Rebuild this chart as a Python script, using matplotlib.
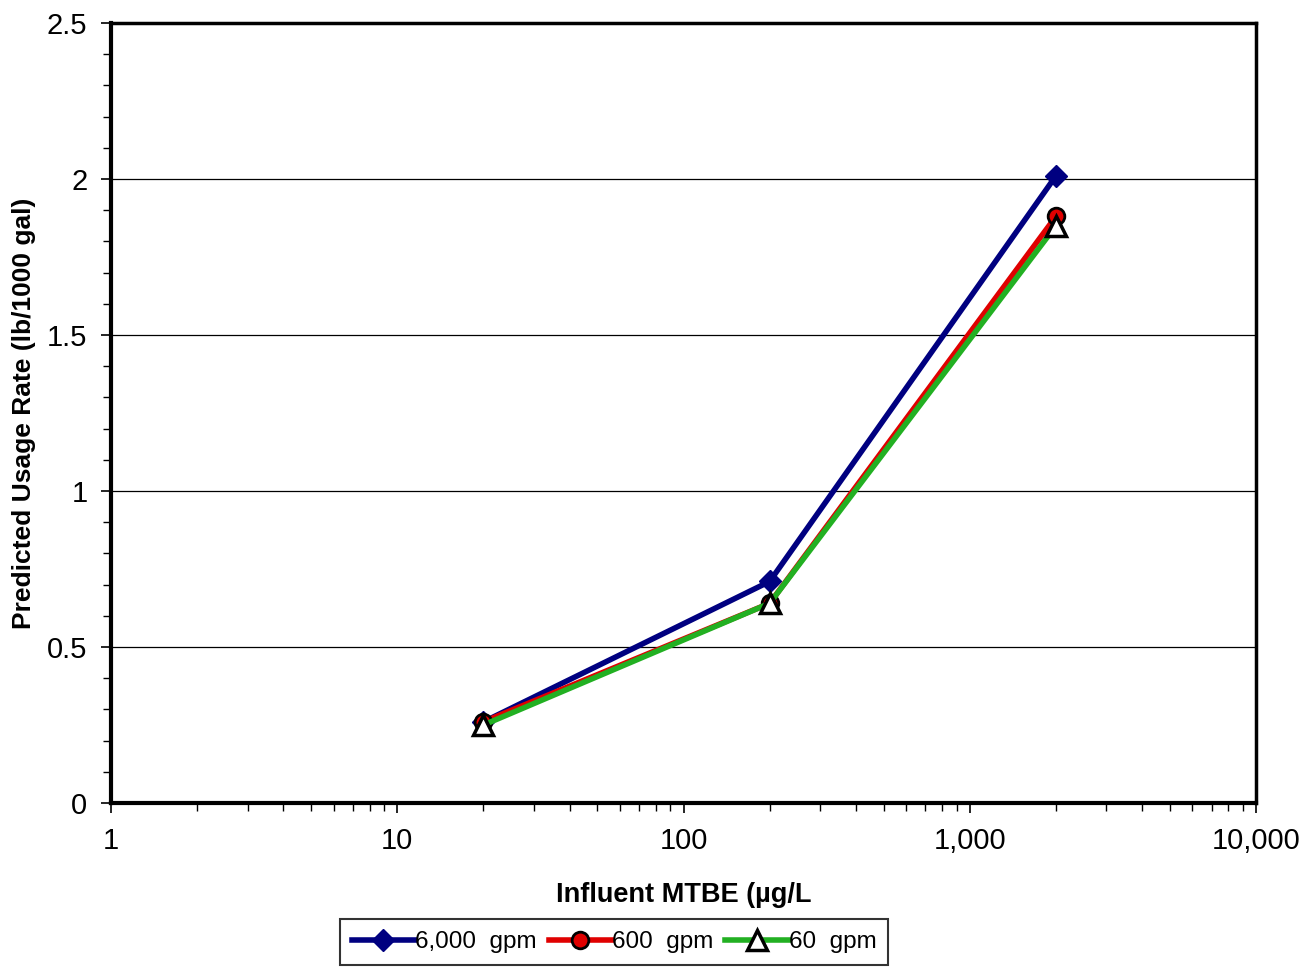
import matplotlib
matplotlib.use("Agg")
import matplotlib.pyplot as plt
from matplotlib.ticker import FixedLocator, FuncFormatter, LogLocator, MultipleLocator

plt.rcParams["font.family"] = ["Liberation Sans", "DejaVu Sans"]

# influent MTBE (ug/L) and predicted usage (lb/1000 gal)
mtbe = [20, 200, 2000]
usage_6000 = [0.26, 0.71, 2.01]
usage_600 = [0.26, 0.64, 1.88]
usage_60 = [0.25, 0.64, 1.85]
series_labels = ["6,000  gpm", "600  gpm", "60  gpm"]

fig = plt.figure(figsize=(13.11, 9.73), dpi=100)
ax = fig.add_axes([111 / 1311, 1 - 803 / 973, (1256 - 111) / 1311, (803 - 23) / 973])

ax.plot(mtbe, usage_6000, color="#000080", lw=4, marker="D", ms=11,
        mfc="#000080", mec="#000080", label=series_labels[0], zorder=3)
ax.plot(mtbe, usage_600, color="#E00000", lw=4, marker="o", ms=12,
        mfc="#E00000", mec="black", mew=2, label=series_labels[1], zorder=4)
ax.plot(mtbe, usage_60, color="#22B022", lw=4, marker="^", ms=14,
        mfc="white", mec="black", mew=2.5, label=series_labels[2], zorder=5)

ax.set_xscale("log")
ax.set_xlim(1, 10000)
ax.set_ylim(0, 2.5)
ax.xaxis.set_major_locator(FixedLocator([1, 10, 100, 1000, 10000]))
ax.xaxis.set_minor_locator(LogLocator(base=10, subs=range(2, 10), numticks=20))
ax.xaxis.set_major_formatter(FuncFormatter(lambda v, p: f"{v:,.0f}"))
ax.yaxis.set_major_locator(MultipleLocator(0.5))
ax.yaxis.set_minor_locator(MultipleLocator(0.1))
ax.yaxis.set_major_formatter(FuncFormatter(lambda v, p: f"{v:g}"))

ax.grid(True, axis="y", which="major", color="black", lw=0.9)
ax.set_axisbelow(True)
ax.tick_params(which="both", direction="out", colors="black")
ax.tick_params(which="major", length=7, width=1.2, labelsize=21)
ax.tick_params(axis="x", which="major", pad=10)
ax.tick_params(axis="y", which="major", pad=10)
ax.tick_params(which="minor", length=6, width=1.0)
for side in ["left", "bottom"]:
    ax.spines[side].set_linewidth(3)
for side in ["top", "right"]:
    ax.spines[side].set_linewidth(2.5)

ax.set_xlabel("Influent MTBE (\u00b5g/L", fontsize=19.5, fontweight="bold", labelpad=20)
ax.set_ylabel("Predicted Usage Rate (lb/1000 gal)", fontsize=19, fontweight="bold", labelpad=8)

leg = fig.legend(loc="center", bbox_to_anchor=(614 / 1311, 1 - 942 / 973), ncol=3,
                 fontsize=17.5, frameon=True, fancybox=False, edgecolor="black",
                 handlelength=2.6, handletextpad=0.0, columnspacing=0.5,
                 borderpad=0.5, borderaxespad=0, markerscale=1.0)
leg.get_frame().set_linewidth(1.5)

fig.savefig("out.png", dpi=100)
